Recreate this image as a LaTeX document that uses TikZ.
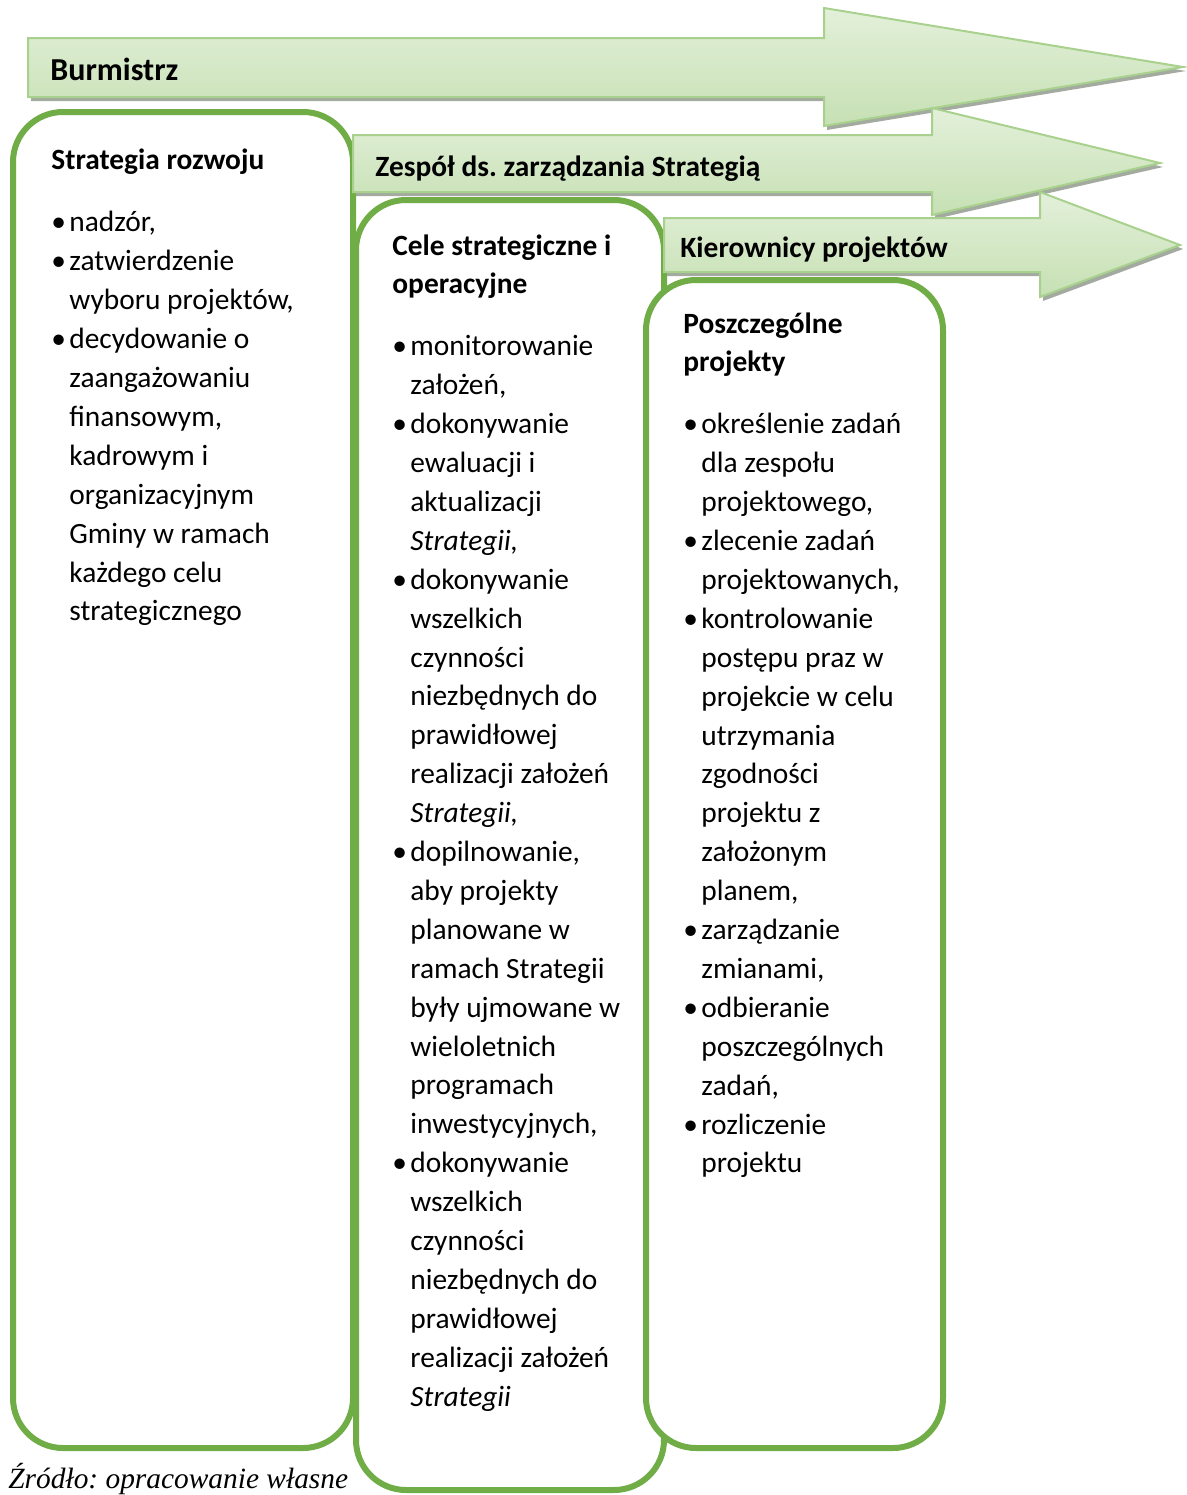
\documentclass[tikz,border=0pt]{standalone}
\usepackage{fontspec}
\setmainfont{Carlito}
\newfontfamily\srcfont{Liberation Serif}
\usetikzlibrary{positioning}
\frenchspacing
\definecolor{boxgreen}{HTML}{70AD47}
\definecolor{bandline}{HTML}{A9D18E}
\definecolor{bandtop}{HTML}{E3F0DA}
\definecolor{bandbot}{HTML}{C6E0B3}
\definecolor{bandshadow}{HTML}{A3AA9F}
\newcommand{\bodyfont}{\fontsize{14.7}{19.45}\selectfont}
\newcommand{\bul}{\makebox[9pt][l]{\textbullet}}
\newcommand{\ind}{\hspace*{9pt}}
% one block arrow: x0, shaft top, shaft bottom, head x, head top, head bottom, tip x, tip y
\newcommand{\band}[8]{%
  \fill[bandshade] (#1,#2) -- (#4,#2) -- (#4,#5) -- (#7,#8) -- (#4,#6) -- (#4,#3) -- (#1,#3) -- cycle;
  \draw[band] (#1,#2) -- (#4,#2) -- (#4,#5) -- (#7,#8) -- (#4,#6) -- (#4,#3) -- (#1,#3) -- cycle;}
\tikzset{
  band/.style={draw=bandline,line width=1pt,top color=bandtop,bottom color=bandbot},
  bandshade/.style={fill=bandshadow,shift={(3,4)}},
  column/.style={draw=boxgreen,line width=3pt,fill=white,rounded corners=25pt},
  coltext/.style={anchor=north west,inner sep=0pt,align=left,font=\bodyfont},
  bandlabel/.style={anchor=base west,inner sep=0pt,font=\bodyfont\bfseries}
}

\begin{document}
\begin{tikzpicture}[x=0.5pt,y=-0.5pt]
        \useasboundingbox (0,0) rectangle (1187,1495);
        \band{28}{38}{97}{824}{8}{126}{1183}{67}
        \draw[column] (13,112) rectangle (353,1448);
        \band{353}{135}{192}{932}{108}{215}{1160}{163}
        \draw[column] (356,200) rectangle (664,1490);
        \band{664}{218}{272}{1040}{192}{297}{1180}{245}
        \draw[column] (646,280) rectangle (943,1448);

        \node[bandlabel,font=\fontsize{16}{19.45}\selectfont\bfseries] (burm) at (50,80) {Burmistrz};
        \node[bandlabel] (zesp) at (375,176) {Zespół ds. zarządzania Strategią};
        \node[bandlabel] (kier) at (680,257) {Kierownicy projektów};

        \node[coltext] (strat) at (51,148) {\textbf{Strategia rozwoju}\\[12pt]
            \bul nadzór,\\
            \bul zatwierdzenie\\
            \ind wyboru projektów,\\
            \bul decydowanie o\\
            \ind zaangażowaniu\\
            \ind finansowym,\\
            \ind kadrowym i\\
            \ind organizacyjnym\\
            \ind Gminy w ramach\\
            \ind każdego celu\\
            \ind strategicznego};
        \node[coltext] (cele) at (392,234) {\textbf{Cele strategiczne i}\\
            \textbf{operacyjne}\\[11.5pt]
            \bul monitorowanie\\
            \ind założeń,\\
            \bul dokonywanie\\
            \ind ewaluacji i\\
            \ind aktualizacji\\
            \ind \textit{Strategii,}\\
            \bul dokonywanie\\
            \ind wszelkich\\
            \ind czynności\\
            \ind niezbędnych do\\
            \ind prawidłowej\\
            \ind realizacji założeń\\
            \ind \textit{Strategii,}\\
            \bul dopilnowanie,\\
            \ind aby projekty\\
            \ind planowane w\\
            \ind ramach Strategii\\
            \ind były ujmowane w\\
            \ind wieloletnich\\
            \ind programach\\
            \ind inwestycyjnych,\\
            \bul dokonywanie\\
            \ind wszelkich\\
            \ind czynności\\
            \ind niezbędnych do\\
            \ind prawidłowej\\
            \ind realizacji założeń\\
            \ind \textit{Strategii}};
        \node[coltext] (proj) at (683,312) {\textbf{Poszczególne}\\
            \textbf{projekty}\\[11.5pt]
            \bul określenie zadań\\
            \ind dla zespołu\\
            \ind projektowego,\\
            \bul zlecenie zadań\\
            \ind projektowanych,\\
            \bul kontrolowanie\\
            \ind postępu praz w\\
            \ind projekcie w celu\\
            \ind utrzymania\\
            \ind zgodności\\
            \ind projektu z\\
            \ind założonym\\
            \ind planem,\\
            \bul zarządzanie\\
            \ind zmianami,\\
            \bul odbieranie\\
            \ind poszczególnych\\
            \ind zadań,\\
            \bul rozliczenie\\
            \ind projektu};

        \node[anchor=base west,inner sep=0pt,font=\srcfont\itshape\fontsize{14.7}{18}\selectfont] (zrodlo) at (8,1488) {Źródło: opracowanie własne};
    \end{tikzpicture}
\end{document}
